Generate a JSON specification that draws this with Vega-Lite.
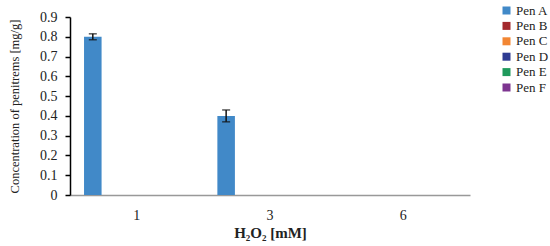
{
  "$schema": "https://vega.github.io/schema/vega-lite/v6.json",
  "width": 400,
  "height": 178,
  "autosize": {"type": "none"},
  "padding": {"left": 70, "top": 17, "right": 80, "bottom": 51},
  "background": "white",
  "config": {
    "view": {"stroke": null},
    "font": "Liberation Serif",
    "axis": {"labelFont": "Liberation Serif", "titleFont": "Liberation Serif"},
    "legend": {"labelFont": "Liberation Serif"}
  },
  "data": {
    "values": [
      {"conc": "1", "pen": "Pen A", "value": 0.80, "err": 0.015},
      {"conc": "1", "pen": "Pen B", "value": 0, "err": 0},
      {"conc": "1", "pen": "Pen C", "value": 0, "err": 0},
      {"conc": "1", "pen": "Pen D", "value": 0, "err": 0},
      {"conc": "1", "pen": "Pen E", "value": 0, "err": 0},
      {"conc": "1", "pen": "Pen F", "value": 0, "err": 0},
      {"conc": "3", "pen": "Pen A", "value": 0.40, "err": 0.03},
      {"conc": "3", "pen": "Pen B", "value": 0, "err": 0},
      {"conc": "3", "pen": "Pen C", "value": 0, "err": 0},
      {"conc": "3", "pen": "Pen D", "value": 0, "err": 0},
      {"conc": "3", "pen": "Pen E", "value": 0, "err": 0},
      {"conc": "3", "pen": "Pen F", "value": 0, "err": 0},
      {"conc": "6", "pen": "Pen A", "value": 0, "err": 0},
      {"conc": "6", "pen": "Pen B", "value": 0, "err": 0},
      {"conc": "6", "pen": "Pen C", "value": 0, "err": 0},
      {"conc": "6", "pen": "Pen D", "value": 0, "err": 0},
      {"conc": "6", "pen": "Pen E", "value": 0, "err": 0},
      {"conc": "6", "pen": "Pen F", "value": 0, "err": 0}
    ]
  },
  "resolve": {"axis": {"y": "independent"}},
  "encoding": {
    "x": {
      "field": "conc", "type": "nominal", "sort": ["1", "3", "6"],
      "scale": {"paddingInner": 0, "paddingOuter": 0},
      "axis": {
        "title": "H₂O₂ [mM]", "titleFont": "Liberation Serif", "titleFontSize": 15, "titleFontWeight": "bold", "titleColor": "#222",
        "titlePadding": 3,
        "labelAngle": 0, "labelFont": "Liberation Serif", "labelFontSize": 14, "labelColor": "#222", "labelPadding": 13,
        "ticks": false, "domainColor": "#999", "domainWidth": 1.5
      }
    },
    "xOffset": {
      "field": "pen", "type": "nominal",
      "scale": {"paddingInner": 0, "paddingOuter": 0.8}
    }
  },
  "layer": [
    {
      "mark": {"type": "bar"},
      "encoding": {
        "y": {
          "field": "value", "type": "quantitative",
          "scale": {"domain": [0, 0.9]},
          "axis": {
            "title": "Concentration of penitrems [mg/g]", "titleFont": "Liberation Serif", "titleFontSize": 12.5, "titleFontWeight": "normal", "titleColor": "#222",
            "titlePadding": 18,
            "values": [0, 0.1, 0.2, 0.3, 0.4, 0.5, 0.6, 0.7, 0.8, 0.9],
            "format": ".1~f", "labelOverlap": false,
            "labelFont": "Liberation Serif", "labelFontSize": 14, "labelColor": "#222", "labelPadding": 8,
            "grid": false, "domainColor": "#000", "domainWidth": 1.5, "tickColor": "#000", "tickSize": 5, "tickWidth": 1.5
          }
        },
        "color": {
          "field": "pen", "type": "nominal",
          "scale": {
            "domain": ["Pen A", "Pen B", "Pen C", "Pen D", "Pen E", "Pen F"],
            "range": ["#4189C8", "#A3292D", "#F28633", "#2E3B93", "#1F9A5C", "#7D3590"]
          },
          "legend": {
            "title": null, "symbolType": "square", "symbolSize": 64, "symbolStrokeWidth": 0,
            "labelFontSize": 13, "labelColor": "#222", "labelFont": "Liberation Serif", "labelOffset": 3,
            "rowPadding": 1.4, "orient": "none", "legendX": 430, "legendY": -13
          }
        }
      }
    },
    {
      "transform": [
        {"filter": "datum.err > 0"},
        {"calculate": "datum.value - datum.err", "as": "lo"},
        {"calculate": "datum.value + datum.err", "as": "hi"}
      ],
      "mark": {"type": "rule", "color": "#111", "strokeWidth": 1.5},
      "encoding": {
        "y": {"field": "lo", "type": "quantitative", "axis": null},
        "y2": {"field": "hi"}
      }
    },
    {
      "transform": [
        {"filter": "datum.err > 0"},
        {"calculate": "datum.value - datum.err", "as": "lo"}
      ],
      "mark": {"type": "tick", "color": "#111", "thickness": 1.5, "size": 8},
      "encoding": {"y": {"field": "lo", "type": "quantitative", "axis": null}}
    },
    {
      "transform": [
        {"filter": "datum.err > 0"},
        {"calculate": "datum.value + datum.err", "as": "hi"}
      ],
      "mark": {"type": "tick", "color": "#111", "thickness": 1.5, "size": 8},
      "encoding": {"y": {"field": "hi", "type": "quantitative", "axis": null}}
    }
  ]
}
